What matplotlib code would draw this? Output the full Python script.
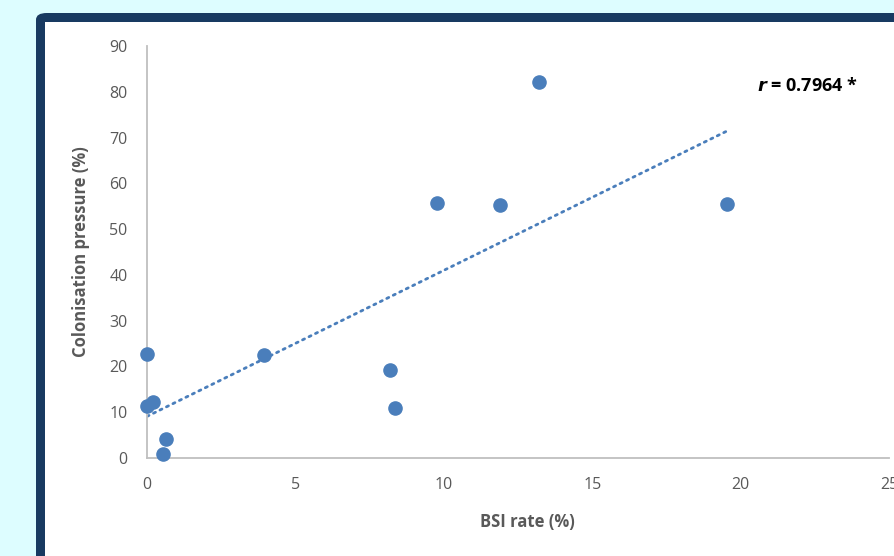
import numpy as np
import matplotlib
matplotlib.use("Agg")
import matplotlib.pyplot as plt
from matplotlib.patches import FancyBboxPatch, Rectangle

plt.rcParams['font.family'] = ['Open Sans', 'DejaVu Sans']

# data
bsi_rate = [0.0, 0.0, 0.21, 0.63, 0.55, 3.95, 8.2, 8.35, 9.77, 11.89, 13.2, 19.54]
colonisation = [22.7, 11.4, 12.3, 4.1, 0.8, 22.5, 19.2, 10.9, 55.7, 55.2, 82.1, 55.5]
x_ticks = [0, 5, 10, 15, 20, 25]
y_ticks = [0, 10, 20, 30, 40, 50, 60, 70, 80, 90]
r_label = r"$\mathbfit{r}$ = 0.7964 *"

blue = '#4a7ebb'
grey_txt = '#595959'

fig = plt.figure(figsize=(8.95, 5.56), dpi=100)
fig.patch.set_facecolor('#ddfdff')

# navy frame + white panel
W, H = 895, 556
frame = FancyBboxPatch((36 / W, -30 / H), 900 / W, (556 - 13 + 30) / H,
                       boxstyle='round,pad=0,rounding_size=0.012',
                       transform=fig.transFigure, facecolor='#183a61',
                       edgecolor='none', zorder=-2)
fig.patches.append(frame)
inner = Rectangle((45 / W, -10 / H), 900 / W, (556 - 22 + 10) / H,
                  transform=fig.transFigure, facecolor='white',
                  edgecolor='none', zorder=-1)
fig.patches.append(inner)

ax = fig.add_axes([147 / W, (556 - 458) / H, (889 - 147) / W, (458 - 46) / H])
ax.set_zorder(5)
ax.set_facecolor('none')
ax.set_xlim(0, 25)
ax.set_ylim(0, 90)
ax.set_xticks(x_ticks)
ax.set_yticks(y_ticks)
ax.tick_params(length=0, labelsize=11.5, labelcolor=grey_txt)
ax.tick_params(axis='y', pad=14)
ax.tick_params(axis='x', pad=14)
for s in ['top', 'right']:
    ax.spines[s].set_visible(False)
for s in ['left', 'bottom']:
    ax.spines[s].set_color('#bfbfbf')
    ax.spines[s].set_linewidth(1.3)

ax.scatter(bsi_rate, colonisation, s=90, color=blue, zorder=3, clip_on=False)

# linear trendline
xs = np.array(bsi_rate)
slope, icpt = np.polyfit(xs, colonisation, 1)
tx = np.array([xs.min(), xs.max()])
ax.plot(tx, slope * tx + icpt, color=blue, lw=2, linestyle=(0, (0.8, 1.8)),
        dash_capstyle='round', zorder=2)

ax.text(20.55, 80.2, r_label, fontsize=13, fontweight='bold', color='black')

ax.set_xlabel('BSI rate (%)', fontsize=12, fontweight='bold', color=grey_txt, labelpad=14)
ax.xaxis.set_label_coords(0.512, -0.133)
ax.set_ylabel('Colonisation pressure (%)', fontsize=12, fontweight='bold',
              color=grey_txt, labelpad=14)

fig.savefig('out.png', dpi=100)
